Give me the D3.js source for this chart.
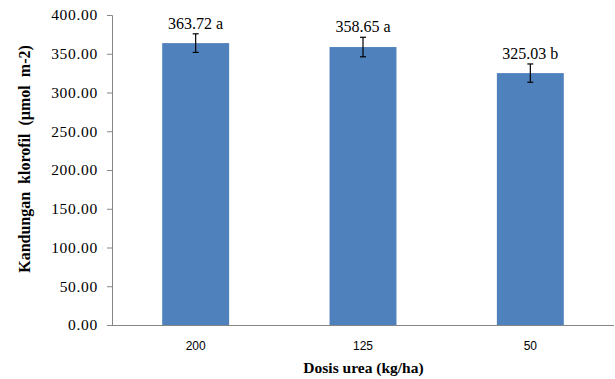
<!DOCTYPE html>
<html>
<head>
<meta charset="utf-8">
<script src="https://cdn.jsdelivr.net/npm/d3@7"></script>
<style>
  html, body { margin: 0; padding: 0; background: #fff; }
  svg { display: block; }
</style>
</head>
<body>
<svg id="chart" width="615" height="379"></svg>
<script>
// Chlorophyll content by urea dose
const categories = ["200", "125", "50"];
const values = [363.72, 358.65, 325.03];
const errors = [12.0, 12.6, 11.8];
const letters = ["a", "a", "b"];
const yTicks = [0, 50, 100, 150, 200, 250, 300, 350, 400];

const svg = d3.select("#chart");
const margin = { left: 112, right: 1, top: 15, bottom: 54 };
const W = 615, H = 379;

const x = d3.scaleBand()
  .domain(categories)
  .range([margin.left, W - margin.right])
  .paddingInner(0.6)
  .paddingOuter(0.3);

const y = d3.scaleLinear()
  .domain([0, 400])
  .range([H - margin.bottom, margin.top]);

const axisColor = "#868686";

// Bars
svg.append("g").selectAll("rect")
  .data(categories)
  .join("rect")
  .attr("x", d => x(d))
  .attr("width", x.bandwidth())
  .attr("y", (d, i) => y(values[i]))
  .attr("height", (d, i) => y(0) - y(values[i]))
  .attr("fill", "#4F81BD");

// Y axis
const yAxis = svg.append("g")
  .attr("transform", `translate(${margin.left},0)`)
  .call(d3.axisLeft(y).tickValues(yTicks).tickFormat(d3.format(".2f")).tickSize(5).tickPadding(9));
yAxis.select(".domain").attr("stroke", axisColor);
yAxis.selectAll(".tick line").attr("stroke", axisColor);
yAxis.selectAll("text")
  .attr("font-family", "'Liberation Serif', 'Times New Roman', serif")
  .attr("font-size", 15.5)
  .attr("letter-spacing", 0.7)
  .attr("fill", "#000");

// X axis
const xAxis = svg.append("g")
  .attr("transform", `translate(0,${y(0)})`)
  .call(d3.axisBottom(x).tickSize(0).tickPadding(16));
xAxis.select(".domain").attr("stroke", axisColor).attr("d", `M${margin.left},0.5H${W - margin.right}`);
xAxis.selectAll("text")
  .attr("font-family", "'Liberation Sans', Arial, sans-serif")
  .attr("font-size", 12)
  .attr("fill", "#000");

// Error bars
const eb = svg.append("g").attr("stroke", "#000").attr("stroke-width", 1.2);
categories.forEach((c, i) => {
  const cx = x(c) + x.bandwidth() / 2;
  const top = y(values[i] + errors[i]);
  const bot = y(values[i] - errors[i]);
  eb.append("line").attr("x1", cx).attr("x2", cx).attr("y1", top).attr("y2", bot);
  eb.append("line").attr("x1", cx - 3).attr("x2", cx + 3).attr("y1", top).attr("y2", top);
  eb.append("line").attr("x1", cx - 3).attr("x2", cx + 3).attr("y1", bot).attr("y2", bot);
});

// Value labels with significance letters
svg.append("g").selectAll("text")
  .data(categories)
  .join("text")
  .attr("x", d => x(d) + x.bandwidth() / 2)
  .attr("y", (d, i) => y(values[i] + errors[i]) - 5)
  .attr("text-anchor", "middle")
  .attr("font-family", "'Liberation Serif', 'Times New Roman', serif")
  .attr("font-size", 16)
  .attr("fill", "#000")
  .text((d, i) => `${values[i].toFixed(2)} ${letters[i]}`);

// Axis titles
svg.append("text")
  .attr("x", (margin.left + W) / 2)
  .attr("y", 373)
  .attr("text-anchor", "middle")
  .attr("font-family", "'Liberation Serif', 'Times New Roman', serif")
  .attr("font-weight", "bold")
  .attr("font-size", 15.5)
  .text("Dosis urea (kg/ha)");

svg.append("text")
  .attr("transform", `translate(30,${(y(0) + y(400)) / 2 - 11}) rotate(-90)`)
  .attr("text-anchor", "middle")
  .attr("font-family", "'Liberation Serif', 'Times New Roman', serif")
  .attr("font-weight", "bold")
  .attr("font-size", 16)
  .style("white-space", "pre")
  .text("Kandungan  klorofil  (µmol  m-2)");
</script>
</body>
</html>
